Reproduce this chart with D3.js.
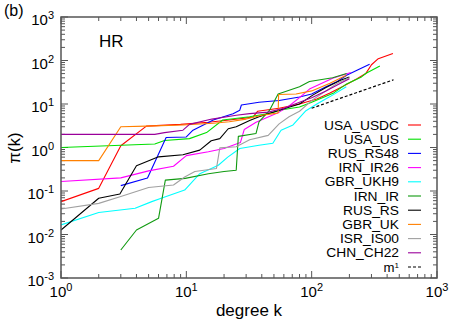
<!DOCTYPE html>
<html><head><meta charset="utf-8">
<script src="https://cdn.jsdelivr.net/npm/d3@7/dist/d3.min.js"></script>
<style>body{margin:0;background:#fff}svg{display:block;font-family:"Liberation Sans",Arial,sans-serif}</style>
</head><body><svg id="c" width="463" height="324"></svg>
<script>
// ---- data: [degree k, pi(k)] ----
const USA_USDC=[[1,0.057],[2,0.115],[3,1.1],[4.8,3.1],[9,3.4],[15,3.8],[22,4.3],[34,5.0],[37,6.8],[55,8],[80,10],[110,13],[140,18],[180,26],[230,38],[270,50],[300,80],[340,110],[445,145]];
const USA_US=[[1,1.0],[5.6,1.2],[6.7,1.45],[10.6,1.6],[14.5,2.2],[19.5,4.3],[32,5.1],[45,6],[60,7.5],[80,8.5],[100,11],[150,18],[190,29],[250,42],[272,51],[350,75]];
const RUS_RS48=[[3,0.133],[4.9,0.2],[6.9,1.7],[10,1.75],[11.3,2.5],[16.4,4.3],[23.6,6],[26.7,7.2],[27.5,9.5],[38,11],[55,12],[80,14.5],[100,17],[130,25],[160,33],[190,46],[230,60],[290,82]];
const IRN_IR26=[[1,0.165],[3,0.2],[5,0.29],[7.9,0.37],[10,0.65],[15,0.8],[20,0.95],[27,1.3],[29,2.6],[36,3.8],[55,6.5],[66,9],[80,14],[96,22],[147,39],[180,47],[205,53]];
const GBR_UKH9=[[1,0.0166],[2,0.032],[3.9,0.040],[5.3,0.057],[6.3,0.068],[9.7,0.105],[12.8,0.25],[18,0.39],[21.4,0.6],[26.7,0.95],[38,1.13],[49,1.25],[57,2.5],[71,3.3],[90,7],[110,10],[139,14.6],[189,25]];
const IRN_IR=[[3,0.0044],[4,0.0127],[6,0.0235],[6.8,0.178],[9.8,0.195],[15,0.25],[20,0.28],[25,0.3],[26,1.8],[36,2.1],[38,3.9],[46,7.1],[54,17],[80,25],[96,33],[147,40],[190,50]];
const RUS_RS=[[1,0.0127],[2,0.068],[2.95,0.085],[4,0.38],[6,0.61],[9.4,0.68],[12.8,0.87],[15.8,1.43],[18.5,1.6],[21.6,2.7],[25,3.0],[32,4.2],[38,5.1],[55,7.2],[80,10],[102,16],[130,24],[170,35],[200,42]];
const GBR_UK=[[1,0.5],[2,0.5],[3,3.0],[4.8,3.1],[9.4,3.3],[16.4,3.6],[22,3.9],[30,4.5],[40,5.5],[50,6],[54,6.2],[54.5,16.5],[75,17],[100,20],[140,30],[189,46]];
const ISR_IS00=[[1,0.0386],[2,0.052],[3,0.075],[5,0.12],[7.9,0.137],[9.7,0.21],[11.7,0.28],[17.4,0.33],[18.5,0.98],[25,1.04],[32,1.5],[45,1.9],[55,3.5],[66,5.1],[80,6.8],[100,12],[130,20],[160,30],[200,40]];
const CHN_CH22=[[1,2.0],[5.6,2.0],[6.7,2.2],[9.4,2.5],[10.6,3.4],[16,4.5],[25,5.5],[32,6],[45,6.5],[60,8],[80,11],[100,14],[130,20],[170,30],[200,38]];
const M1=[[100,8],[450,36]];
const seriesNames=["USA_USDC","USA_US","RUS_RS48","IRN_IR26","GBR_UKH9","IRN_IR","RUS_RS","GBR_UK","ISR_IS00","CHN_CH22"];
const seriesData=[USA_USDC,USA_US,RUS_RS48,IRN_IR26,GBR_UKH9,IRN_IR,RUS_RS,GBR_UK,ISR_IS00,CHN_CH22];
const seriesColors=["#ff0000","#00e000","#0000ff","#ff00ff","#00ffff","#109a10","#000000","#ff8000","#a0a0a0","#9a009a"];
const xTickExp=[0,1,2,3];
const yTickExp=[-3,-2,-1,0,1,2,3];

const svg=d3.select("#c");
const L=61,R=437,T=17,B=278;
const x=d3.scaleLog().domain([1,1000]).range([L,R]);
const y=d3.scaleLog().domain([1e-3,1e3]).range([B,T]);

svg.append("defs").append("clipPath").attr("id","pc").append("rect").attr("x",L).attr("y",T).attr("width",R-L).attr("height",B-T);

// ticks (inside, mirrored)
const g=svg.append("g").attr("stroke","#555").attr("stroke-width",1);
const minor=[];
for(let e=0;e<3;e++)for(let m=2;m<10;m++)minor.push(m*Math.pow(10,e));
const minorY=[];
for(let e=-3;e<3;e++)for(let m=2;m<10;m++)minorY.push(m*Math.pow(10,e));
xTickExp.forEach(e=>{const v=Math.pow(10,e),px=x(v);g.append("line").attr("x1",px).attr("x2",px).attr("y1",B).attr("y2",B-7);g.append("line").attr("x1",px).attr("x2",px).attr("y1",T).attr("y2",T+7);});
minor.forEach(v=>{const px=x(v);g.append("line").attr("x1",px).attr("x2",px).attr("y1",B).attr("y2",B-4);g.append("line").attr("x1",px).attr("x2",px).attr("y1",T).attr("y2",T+4);});
yTickExp.forEach(e=>{const v=Math.pow(10,e),py=y(v);g.append("line").attr("x1",L).attr("x2",L+7).attr("y1",py).attr("y2",py);g.append("line").attr("x1",R).attr("x2",R-7).attr("y1",py).attr("y2",py);});
minorY.forEach(v=>{const py=y(v);g.append("line").attr("x1",L).attr("x2",L+4).attr("y1",py).attr("y2",py);g.append("line").attr("x1",R).attr("x2",R-4).attr("y1",py).attr("y2",py);});

// lines
const line=d3.line().x(d=>x(d[0])).y(d=>y(d[1]));
const pl=svg.append("g").attr("clip-path","url(#pc)");
seriesData.forEach((d,i)=>{pl.append("path").attr("d",line(d)).attr("fill","none").attr("stroke",seriesColors[i]).attr("stroke-width",1.1).attr("stroke-linejoin","round");});
pl.append("path").attr("d",line(M1)).attr("fill","none").attr("stroke","#000").attr("stroke-width",1.2).attr("stroke-dasharray","3,2");

// frame
svg.append("rect").attr("x",L).attr("y",T).attr("width",R-L).attr("height",B-T).attr("fill","none").attr("stroke","#555").attr("stroke-width",1.5);

// tick labels
xTickExp.forEach(e=>{const t=svg.append("text").attr("x",x(Math.pow(10,e))).attr("y",B+19).attr("text-anchor","middle").attr("font-size",15).attr("fill","#000");t.append("tspan").text("10");t.append("tspan").attr("dy",-6).attr("font-size",11).text(e);});
yTickExp.forEach(e=>{const t=svg.append("text").attr("x",54).attr("y",y(Math.pow(10,e))+8).attr("text-anchor","end").attr("font-size",15).attr("fill","#000");t.append("tspan").text("10");t.append("tspan").attr("dy",-6).attr("font-size",11).text(e);});

// titles
svg.append("text").attr("x",4).attr("y",16).attr("font-size",16).text("(b)");
svg.append("text").attr("x",99).attr("y",47).attr("font-size",17).text("HR");
svg.append("text").attr("x",249).attr("y",316).attr("text-anchor","middle").attr("font-size",17).text("degree k");
svg.append("text").attr("transform","translate(20,148) rotate(-90)").attr("text-anchor","middle").attr("font-size",17).text("π(k)");

// legend
const ly0=125,ldy=14.2,lfs=12.2;
seriesNames.forEach((n,i)=>{const yy=ly0+i*ldy;const t=svg.append("text").attr("x",399).attr("y",yy+4.5).attr("text-anchor","end").attr("font-size",lfs).text(n);const w=t.node().getComputedTextLength();t.attr("textLength",w*1.13).attr("lengthAdjust","spacingAndGlyphs");svg.append("line").attr("x1",408).attr("x2",421).attr("y1",yy).attr("y2",yy).attr("stroke",seriesColors[i]).attr("stroke-width",1.1);});
const my=ly0+10*ldy;
const mt=svg.append("text").attr("x",399).attr("y",my+4.5).attr("text-anchor","end").attr("font-size",lfs+1);mt.append("tspan").text("m");mt.append("tspan").attr("dy",-4).attr("font-size",8).text("1");
svg.append("line").attr("x1",408).attr("x2",421).attr("y1",my).attr("y2",my).attr("stroke","#000").attr("stroke-width",1.1).attr("stroke-dasharray","3,2");
</script></body></html>
